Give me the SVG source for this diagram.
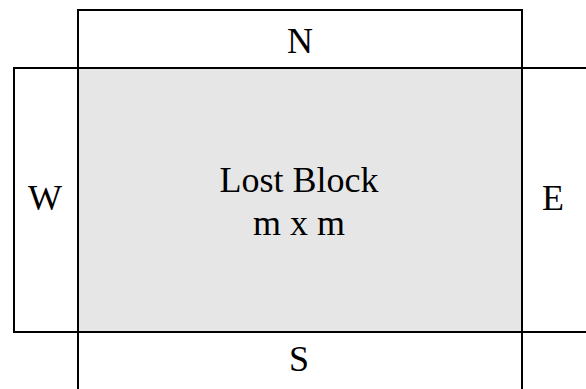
<svg xmlns="http://www.w3.org/2000/svg" width="586" height="389" viewBox="0 0 586 389">
  <style>
    .edge { fill: none; stroke: #000; stroke-width: 2; }
    .label { font-family: "Liberation Serif", "Times New Roman", serif; font-size: 36px; fill: #000; text-anchor: middle; }
  </style>
  <rect width="586" height="389" fill="#fff"/>
  <g id="lost-block">
    <rect x="78" y="68" width="444" height="264" fill="#e6e6e6"/>
    <text class="label" x="299" y="192">Lost Block</text>
    <text class="label" x="299" y="235">m x m</text>
  </g>
  <g id="north">
    <path class="edge" d="M78 68 V10 H522 V68"/>
    <text class="label" x="300" y="53">N</text>
  </g>
  <g id="west">
    <path class="edge" d="M78 68 H14 V332 H78"/>
    <text class="label" x="45" y="210">W</text>
  </g>
  <g id="east">
    <path class="edge" d="M522 68 H586 M522 332 H586"/>
    <text class="label" x="553" y="210">E</text>
  </g>
  <g id="south">
    <path class="edge" d="M78 332 V389 M522 332 V389"/>
    <text class="label" x="299" y="371">S</text>
  </g>
  <g id="connectors">
    <path class="edge" d="M78 68 H522 V332 H78 Z"/>
  </g>
</svg>
